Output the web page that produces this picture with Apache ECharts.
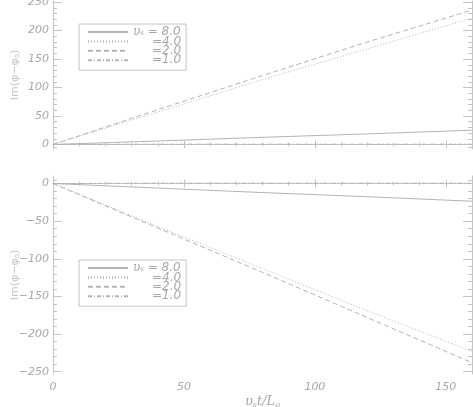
<!DOCTYPE html>
<html><head><meta charset="utf-8">
<script src="https://cdn.jsdelivr.net/npm/echarts@6/dist/echarts.min.js"></script>
<style>html,body{margin:0;padding:0;background:#fff}#c{width:473px;height:407px}</style>
</head><body><div id="c"></div>
<script>
// ---- data ----
var xVals = [0, 40, 80, 120, 160];
var seriesNames = ['8.0', '4.0', '2.0', '1.0'];
// top panel: Im(phi - phi0) > 0
var top_v8 = [0, 6, 12.5, 18.5, 25];
var top_v4 = [0, 57, 114, 168, 222];
var top_v2 = [0, 61, 121, 180, 236];
var top_v1 = [0, 0.5, 0.5, 0.5, 0.5];
// bottom panel
var bot_v8 = [0, -6, -12, -17.5, -23.5];
var bot_v4 = [0, -57, -113, -169, -223];
var bot_v2 = [0, -59, -118, -178, -238];
var bot_v1 = [0, 0.5, 0.5, 0.5, 0.5];
// tick labels
var xTicks = [0, 50, 100, 150];
var topMajor = [0, 50, 100, 150, 200, 250];
var topMinor = [-5, 10, 20, 30, 40, 60, 70, 80, 90, 110, 120, 130, 140, 160, 170, 180, 190, 210, 220, 230, 240];
var botMajor = [0, -50, -100, -150, -200, -250];
var botMinor = [5, -10, -20, -30, -40, -60, -70, -80, -90, -110, -120, -130, -140, -160, -170, -180, -190, -210, -220, -230, -240];

var AX = '#c4c4c4', TX = '#a8a8a8', LN = '#b4b4b4';
var lblFont = {color: TX, fontFamily: 'DejaVu Sans', fontStyle: 'italic', fontSize: 11};
function fmtNum(v){ return (v < 0 ? '\u2212' : '') + Math.abs(v); }

function xAxes(grid, showLabels){
  var base = {type:'value', gridIndex:grid, min:0, max:160, interval:50,
    axisLine:{show:true, lineStyle:{color:AX, width:1}}, splitLine:{show:false}};
  var bottom = Object.assign({}, base, {position:'bottom',
    axisTick:{show:true, inside:true, length:4, lineStyle:{color:AX}},
    minorTick:{show:true, splitNumber:5, length:2, lineStyle:{color:AX}},
    axisLabel: showLabels ? Object.assign({show:true, margin:8, showMaxLabel:false, formatter:fmtNum}, lblFont) : {show:false}
  });
  if (showLabels) {
    bottom.name = '{u|\u03c5}{s|s}{u|t/L}{s|o}';
    bottom.nameLocation = 'middle';
    bottom.nameGap = 21;
    bottom.nameMoveOverlap = false;
    bottom.nameTextStyle = {color: TX, rich:{
      u:{fontFamily:'DejaVu Serif', fontStyle:'italic', fontSize:13, color:TX},
      s:{fontFamily:'DejaVu Serif', fontStyle:'italic', fontSize:8, color:TX, verticalAlign:'bottom', padding:[6,0,0,0]}
    }};
  }
  var top = Object.assign({}, base, {position:'top',
    axisTick:{show:true, inside:true, length:4, lineStyle:{color:AX}},
    minorTick:{show:true, splitNumber:5, length:2, lineStyle:{color:AX}},
    axisLabel:{show:false}});
  return [bottom, top];
}
function yAxes(grid, min, max, major, minor){
  var base = {type:'value', gridIndex:grid, min:min, max:max, splitLine:{show:false}};
  return [
    Object.assign({}, base, {position:'left',
      axisLine:{show:true, lineStyle:{color:AX}},
      axisTick:{show:true, inside:true, length:9, customValues:major, lineStyle:{color:AX}},
      axisLabel:Object.assign({show:true, margin:4, customValues:major, formatter:fmtNum}, lblFont),
      name:'{a|Im(\u03c6\u2212\u03c6}{b|o}{a|)}', nameLocation:'middle', nameRotate:90, nameGap:32,
      nameMoveOverlap:false,
      nameTextStyle:{color:'#c8c8c8', rich:{
        a:{fontFamily:'DejaVu Sans', fontSize:11, color:'#c8c8c8'},
        b:{fontFamily:'DejaVu Sans', fontSize:7, color:'#c8c8c8', verticalAlign:'bottom', padding:[5,0,0,0]}}}
    }),
    Object.assign({}, base, {position:'left',
      axisLine:{show:false},
      axisTick:{show:true, inside:true, length:4, customValues:minor, lineStyle:{color:AX}},
      axisLabel:{show:false}}),
    Object.assign({}, base, {position:'right',
      axisLine:{show:true, lineStyle:{color:AX}},
      axisTick:{show:true, inside:true, length:9, customValues:major, lineStyle:{color:AX}},
      axisLabel:{show:false}}),
    Object.assign({}, base, {position:'right',
      axisLine:{show:false},
      axisTick:{show:true, inside:true, length:4, customValues:minor, lineStyle:{color:AX}},
      axisLabel:{show:false}})
  ];
}

var dashTypes = ['solid', [1, 2], [5, 3], [4, 2, 1, 2]];
function mk(name, vals, xi, yi, k){
  return {type:'line', name:name, xAxisIndex:xi, yAxisIndex:yi,
    data: xVals.map(function(x,i){return [x, vals[i]];}),
    symbol:'none', showSymbol:false, silent:true, animation:false,
    lineStyle:{color:LN, width:1, type:dashTypes[k]}, itemStyle:{color:LN}};
}

function legendAt(top){
  return {orient:'vertical', left:79, top:top, data:seriesNames,
    borderColor:AX, borderWidth:1, padding:[2, 5, 4, 8],
    itemWidth:40, itemHeight:9, itemGap:-2.6, selectedMode:false,
    itemStyle:{color:'rgba(0,0,0,0)', borderWidth:0, opacity:0},
    formatter:function(n){
      return n === '8.0' ? '{u|\u03c5}{s|s}{t| = 8.0}' : '{sp|}{t|=' + n + '}';
    },
    textStyle:{color:TX, lineHeight:9, fontSize:12, rich:{
      u:{fontFamily:'DejaVu Serif', fontStyle:'italic', fontSize:12, color:TX, lineHeight:9},
      s:{fontFamily:'DejaVu Serif', fontStyle:'italic', fontSize:7, color:TX, lineHeight:9, verticalAlign:'bottom'},
      t:{fontFamily:'DejaVu Sans', fontStyle:'italic', fontSize:12, color:TX, lineHeight:9},
      sp:{width:19, lineHeight:9}
    }}};
}

var option = {
  animation:false,
  backgroundColor:'#fff',
  grid:[{left:53, right:1, top:1, height:148, outerBoundsMode:'none', containLabel:false},
        {left:53, right:1, top:176, height:198, outerBoundsMode:'none', containLabel:false}],
  xAxis: xAxes(0, false).concat(xAxes(1, true)),
  yAxis: yAxes(0, -8, 252, topMajor, topMinor).concat(yAxes(1, -253, 10, botMajor, botMinor)),
  legend:[legendAt(24), legendAt(260)],
  series:[
    mk('8.0', top_v8, 0, 0, 0), mk('4.0', top_v4, 0, 0, 1), mk('2.0', top_v2, 0, 0, 2), mk('1.0', top_v1, 0, 0, 3),
    mk('8.0', bot_v8, 2, 4, 0), mk('4.0', bot_v4, 2, 4, 1), mk('2.0', bot_v2, 2, 4, 2), mk('1.0', bot_v1, 2, 4, 3)
  ]
};
var chart = echarts.init(document.getElementById('c'), null, {renderer:'canvas'});
chart.setOption(option);
</script></body></html>
